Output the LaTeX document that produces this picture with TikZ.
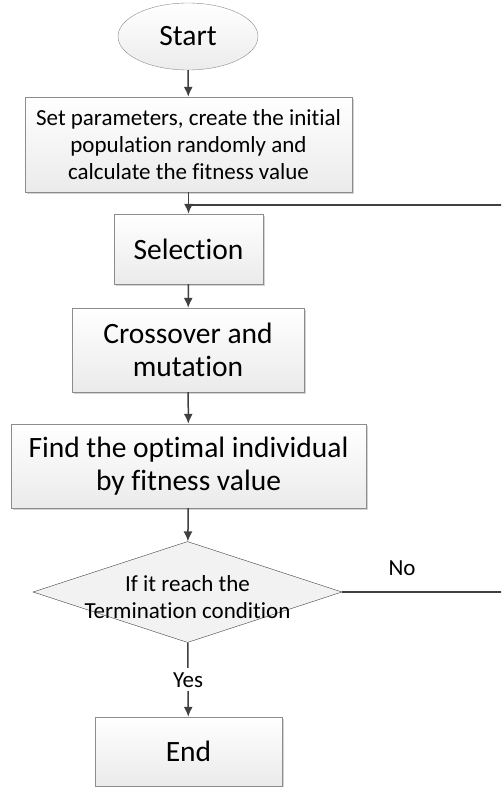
\documentclass[tikz,border=0pt]{standalone}
\usepackage{fontspec}
\setmainfont{Carlito}[Ligatures=CommonOff]
\usetikzlibrary{shapes.geometric,arrows.meta,shadows}
\definecolor{linegray}{HTML}{404040}
\definecolor{boxgray}{HTML}{8C8C8C}
\newcommand{\bigtxt}{\fontsize{29.5}{33}\selectfont}
\newcommand{\smalltxt}{\fontsize{23}{26.7}\selectfont}

\begin{document}
\begin{tikzpicture}[x=1pt, y=-1pt,
        terminal/.style={ellipse, draw=boxgray, top color=white, bottom color=gray!15, minimum width=140, minimum height=67, inner sep=0, font=\bigtxt},
        process/.style={rectangle, draw=boxgray, top color=white, bottom color=gray!16, drop shadow={shadow xshift=1.5pt, shadow yshift=-1.5pt, opacity=0.35}, align=center, inner sep=0},
        decision/.style={diamond, draw=linegray, fill=gray!10, minimum width=309, minimum height=101, inner sep=0},
        flow/.style={draw=linegray, line width=1.5pt, -{Latex[length=10pt, width=9pt]}},
        backline/.style={draw=linegray, line width=1.5pt},
        answer/.style={font=\smalltxt, inner xsep=1pt, inner ysep=4pt}]

        \useasboundingbox (0,0) rectangle (501,787);
        \clip (0,0) rectangle (501,787);

        % Steps
        \node[terminal] (start) at (188,36.5) {Start};
        \node[process, minimum width=327, minimum height=95, font=\smalltxt] (init) at (188.5,144.5)
            {Set parameters, create the initial\\population randomly and\\calculate the fitness value};
        \node[process, minimum width=149, minimum height=70, font=\bigtxt] (sel) at (188.5,249) {Selection};
        \node[process, minimum width=232, minimum height=84, font=\bigtxt] (cross) at (188,350) {Crossover and\\mutation};
        \node[process, minimum width=355, minimum height=84, font=\bigtxt] (find) at (188.5,466) {Find the optimal individual\\by fitness value};
        \node[decision] (term) at (187.5,592) {};
        \node[font=\smalltxt, align=center, inner sep=0] (termtxt) at (187.5,597) {If it reach the\\Termination condition};
        \node[process, minimum width=187, minimum height=69, font=\bigtxt] (stop) at (188.5,751.5) {End};

        % Loop corners
        \coordinate (join) at (188.5,205);
        \coordinate (rtop) at (520,205);
        \coordinate (rbot) at (520,592);

        % Links
        \draw[flow] (start) -- (init);
        \draw[flow] (init) -- (sel);
        \draw[flow] (sel) -- (cross);
        \draw[flow] (cross) -- (find);
        \draw[flow] (find) -- (term);
        \draw[flow] (term) -- node[answer, fill=white] (yes) {Yes} (stop);
        \draw[backline] (term.east) -- (rbot) -- (rtop) -- (join);
        \node[answer] (no) at (402,568) {No};
\end{tikzpicture}
\end{document}
